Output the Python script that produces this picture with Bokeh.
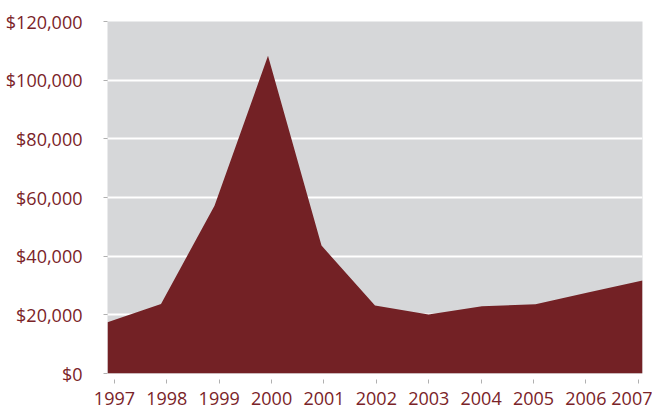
from bokeh.plotting import figure
from bokeh.models import Range1d, FixedTicker, NumeralTickFormatter, CustomJSTickFormatter
from bokeh.embed import file_html
from bokeh.resources import INLINE

years = [1997, 1998, 1999, 2000, 2001, 2002, 2003, 2004, 2005, 2006, 2007]
values = [17500, 23700, 57200, 108300, 43600, 23200, 20100, 22900, 23600, 27700, 31700]
y_ticks = [0, 20000, 40000, 60000, 80000, 100000, 120000]

# category-axis style tick placement (slightly inset from the data points, as in the original)
TICK_START = 0.13
TICK_STEP = 0.979
x_ticks = [years[0] + TICK_START + i * TICK_STEP for i in range(len(years))]

FONT = "Open Sans"
TEXT = "#7a2328"

p = figure(width=652, height=414, output_backend="svg", toolbar_location=None,
           x_range=Range1d(years[0], years[-1]), y_range=Range1d(0, 120000),
           min_border_left=107, min_border_right=10, min_border_top=21, min_border_bottom=41)
p.background_fill_color = "#d6d7d9"
p.border_fill_color = "white"
p.outline_line_color = None

p.varea(x=years, y1=0, y2=values, fill_color="#732125")

p.xgrid.grid_line_color = None
p.ygrid.grid_line_color = "white"
p.ygrid.grid_line_width = 2
p.ygrid.ticker = FixedTicker(ticks=y_ticks)

p.yaxis.ticker = FixedTicker(ticks=y_ticks)
p.yaxis.formatter = NumeralTickFormatter(format="$0,0")
p.xaxis.ticker = FixedTicker(ticks=x_ticks)
p.xaxis.formatter = CustomJSTickFormatter(
    args=dict(years=years, start=years[0] + TICK_START, step=TICK_STEP),
    code="return String(years[Math.round((tick - start) / step)]);")

for ax in (p.xaxis[0], p.yaxis[0]):
    ax.axis_line_color = None
    ax.major_tick_line_color = "#b0b0b0"
    ax.minor_tick_line_color = None
    ax.major_label_text_font = FONT
    ax.major_label_text_font_size = "18px"
    ax.major_label_text_color = TEXT

p.yaxis.major_tick_in = 0
p.yaxis.major_tick_out = 4
p.yaxis.major_label_standoff = 21
p.xaxis.major_tick_in = -6
p.xaxis.major_tick_out = 10
p.xaxis.major_label_standoff = 8

open("out.html", "w").write(file_html(p, INLINE))
